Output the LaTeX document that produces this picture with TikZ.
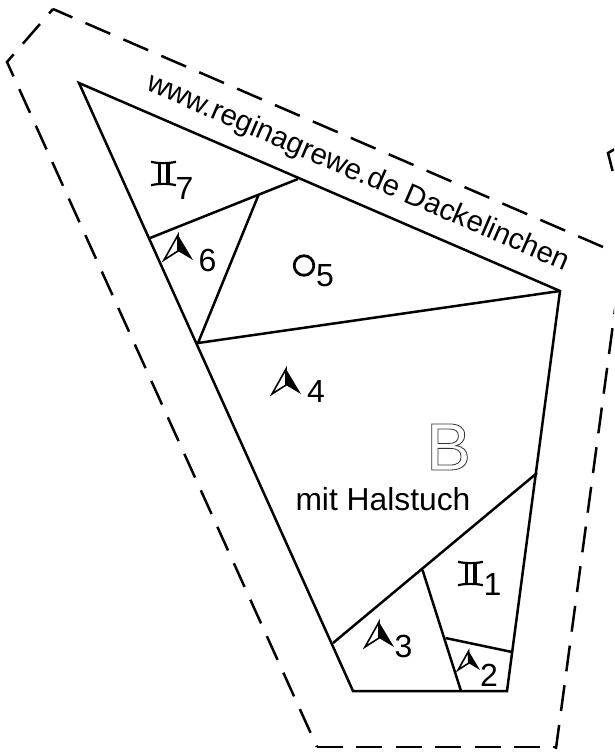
\documentclass[tikz,border=0pt]{standalone}
\usepackage{fontspec}
\setmainfont{Liberation Sans}
\tikzset{
  solidline/.style={line width=2.5pt,line join=miter,black},
  dashline/.style={line width=2.5pt,line join=miter,black,dash pattern=on 26pt off 14.03pt},
  label/.style={inner sep=0pt,outer sep=0pt,anchor=base west,font=\fontsize{32}{32}\selectfont},
  pics/geminisign/.style={code={
    \draw[line width=2.2pt] (0,0.8) .. controls (8,2.6) and (17,2.6) .. (25,0.8);
    \draw[line width=2.2pt] (0,24.2) .. controls (8,22.4) and (17,22.4) .. (25,24.2);
    \draw[line width=3.4pt] (8.5,2) -- (8.5,23);
    \draw[line width=3.4pt] (17,2) -- (17,23);
  }},
  pics/navsign/.style={code={
    \draw[line width=1.6pt,fill=white,line join=miter] (14,0) -- (0,25) -- (14,16) -- cycle;
    \fill[black] (14,0) -- (29,25) -- (14,16) -- cycle;
  }},
}
\begin{document}
\begin{tikzpicture}[x=1pt,y=-1pt]
\useasboundingbox (0,0) rectangle (614,752);
\clip (0,0) rectangle (614,752);
% corners of the patch
\coordinate (a) at (79,83);
\coordinate (b) at (560,291);
\coordinate (c) at (507,691);
\coordinate (d) at (353,691);
\coordinate (e) at (198,343);
\coordinate (f) at (150,238);
\coordinate (g) at (298,179);
\coordinate (h) at (258.5,195);
\coordinate (j) at (537,473);
\coordinate (k) at (333,643);
\coordinate (m) at (422.5,570);
\coordinate (n) at (461,691);
\coordinate (p) at (445.5,638);
\coordinate (q) at (512,652);
% outline
\draw[solidline] (a) -- (b) -- (c) -- (d) -- cycle;
\draw[solidline] (f) -- (g);
\draw[solidline] (h) -- (e) -- (b);
\draw[solidline] (j) -- (k);
\draw[solidline] (m) -- (n);
\draw[solidline] (p) -- (q);
% dashed margin
\coordinate (t1) at (603,247);
\coordinate (t2) at (53,9);
\coordinate (t3) at (7,62);
\coordinate (t4) at (317,747);
\coordinate (t5) at (556,747);
\coordinate (t5b) at (555.9,749);
\coordinate (t6) at (618.3,285);
\coordinate (t7) at (608,153);
\coordinate (t8) at (616,148.5);
\coordinate (t9) at (612.6,171);
\draw[solidline,dash pattern=on 27pt off 14.3pt] (t1) -- (t2);
\draw[dashline,dash phase=20.1pt] (t2) -- (t3) -- (t4);
\draw[solidline,dash pattern=on 26pt off 13.4pt] (t4) -- (t5);
\draw[dashline,dash phase=1.7pt] (t5b) -- (t6);
\draw[solidline] (t8) -- (t7) -- (t9);
% text
\node[label,rotate=-23.4,font=\fontsize{29.4}{30}\selectfont] (site) at (145,89.5) {www.reginagrewe.de Dackelinchen};
\node[label,font=\fontsize{31.8}{32}\selectfont] (hals) at (295.5,510) {mit Halstuch};
\node[inner sep=0pt,anchor=base west,font=\fontsize{67}{67}\selectfont] (bigb) at (426,470) {\special{pdf:code 1 Tr 0.8 w 0.2 G}B\special{pdf:code 0 Tr 0 G}};
\node[label] (n1) at (483.5,595) {1};
\node[label] (n2) at (480,686) {2};
\node[label] (n3) at (394.7,657) {3};
\node[label] (n4) at (307,402) {4};
\node[label] (n5) at (316,286) {5};
\node[label] (n6) at (198.7,271) {6};
\node[label] (n7) at (175.5,199) {7};
% symbols
\pic at (151,161) {geminisign};
\pic at (458,561) {geminisign};
\pic at (164,235) {navsign};
\pic at (272,369) {navsign};
\pic at (365,622) {navsign};
\pic[scale=0.76] at (458,651) {navsign};
\draw[line width=2.8pt] (304,265.5) circle [radius=9.8];
\end{tikzpicture}
\end{document}
